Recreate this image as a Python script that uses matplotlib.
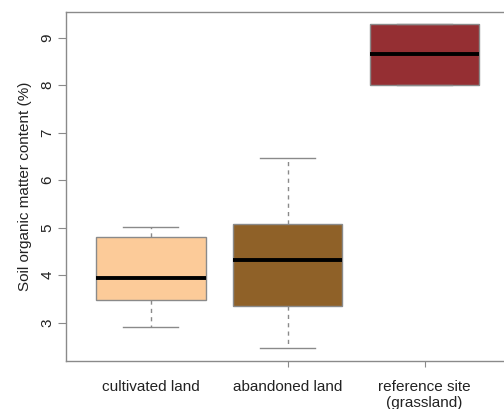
import matplotlib
matplotlib.use('Agg')
import matplotlib.pyplot as plt

plt.rcParams['font.family'] = ['Liberation Sans', 'DejaVu Sans']

# Box statistics (values in %)
categories = ['cultivated land', 'abandoned land', 'reference site\n(grassland)']
whisker_low = [2.90, 2.46, 8.00]
q1 = [3.47, 3.35, 8.00]
median = [3.93, 4.32, 8.65]
q3 = [4.80, 5.07, 9.28]
whisker_high = [5.02, 6.46, 9.28]
fill_colors = ['#FCCB99', '#8F6128', '#952F33']

stats = []
for i, name in enumerate(categories):
    stats.append({
        'label': name,
        'whislo': whisker_low[i],
        'q1': q1[i],
        'med': median[i],
        'q3': q3[i],
        'whishi': whisker_high[i],
        'fliers': [],
    })

fig = plt.figure(figsize=(5.04, 4.09), dpi=100)
ax = fig.add_axes([0.131, 0.1174, 0.8797, 0.8533])

edge = '#8a8a8a'
bp = ax.bxp(stats, positions=[1, 2, 3], widths=0.8, patch_artist=True,
            showfliers=False,
            boxprops=dict(edgecolor=edge, linewidth=1.0),
            whiskerprops=dict(color=edge, linestyle=(0, (3, 3)), linewidth=1.0),
            capprops=dict(color=edge, linewidth=1.0),
            medianprops=dict(color='black', linewidth=2.8),
            capwidths=0.4)
for patch, c in zip(bp['boxes'], fill_colors):
    patch.set_facecolor(c)

ax.set_xlim(0.38, 3.62)
ax.set_ylim(2.19, 9.54)
ax.set_yticks([3, 4, 5, 6, 7, 8, 9])
ax.set_xticks([1, 2, 3])
ax.set_xticklabels(categories, linespacing=1.1)
ax.set_ylabel('Soil organic matter content (%)', fontsize=11, color='#222222', labelpad=6)

for s in ax.spines.values():
    s.set_color('#8a8a8a')
    s.set_linewidth(1.0)

ax.tick_params(axis='y', direction='out', length=5.5, color='#8a8a8a',
               labelsize=11, labelcolor='#222222', pad=3)
for lab in ax.get_yticklabels():
    lab.set_rotation(90)
    lab.set_va('center')
ax.tick_params(axis='x', direction='out', length=4, color='#8a8a8a',
               labelsize=11, labelcolor='#222222', pad=10)
ax.xaxis.get_major_ticks()[0].tick1line.set_visible(False)

fig.savefig('out.png', dpi=100)
